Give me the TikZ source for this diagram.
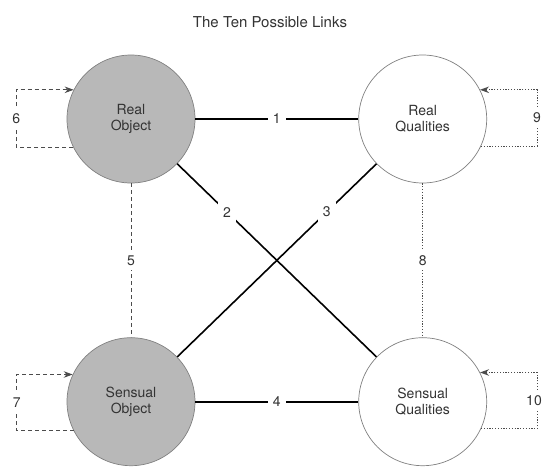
\documentclass[tikz,border=0pt]{standalone}
\usepackage{fontspec}
\setmainfont{TeX Gyre Heros}
\usetikzlibrary{arrows.meta,positioning}
\tikzset{
    %Define standard arrow tip
    >={Stealth[length=9pt,width=6.5pt]},
    %Define style for circles
    punkt/.style={
           circle,
           draw=black!50, line width=.7pt,
           minimum size=128pt,
           inner sep=0pt,
           font=\fontsize{14}{16.5}\selectfont,
           text=black!80,
           align=center},
    objpunkt/.style={punkt, fill=black!28},
    qualpunkt/.style={punkt, fill=white},
    % Define link styles
    pil/.style={line width=1.6pt, black},
    streg/.style={line width=.9pt, black!70, dash pattern=on 4pt off 3pt},
    prik/.style={line width=1pt, black!70, dash pattern=on 1.2pt off 1.6pt},
    tal/.style={fill=white, inner sep=5pt, text=black!80,
           font=\fontsize{14}{16}\selectfont}
}
\begin{document}
\begin{tikzpicture}[x=1pt,y=-1pt,node distance=163pt]
\useasboundingbox (0,0) rectangle (542,467);

\node[font=\fontsize{15}{17}\selectfont, text=black!80] (title) at (270,22) {The Ten Possible Links};

 %nodes
\node[objpunkt] (RO) at (131,119) {Real\\Object};
\node[qualpunkt, right=of RO] (RQ) {Real\\Qualities};
\node[objpunkt, below=154pt of RO] (SO) {Sensual\\Object};
\node[qualpunkt, right=of SO] (SQ) {Sensual\\Qualities};

 %links
\draw[pil] (RO) -- node[tal]{1} (RQ);
\draw[pil] (SO) -- node[tal]{4} (SQ);
\draw[pil] (RO) -- node[tal, pos=.25]{2} (SQ);
\draw[pil] (RQ) -- node[tal, pos=.25]{3} (SO);
\draw[streg] (RO) -- node[tal]{5} (SO);
\draw[prik] (RQ) -- node[tal]{8} (SQ);

 %self links
\draw[streg,->] (RO.206) -- ++(-57,0) |- node[tal, pos=.25]{6} (RO.153);
\draw[streg,->] (SO.207) -- ++(-57,0) |- node[tal, pos=.25]{7} (SO.155);
\draw[prik,->] (RQ.335) -- ++(56,0) |- node[tal, pos=.25]{9} (RQ.27);
\draw[prik,->] (SQ.335) -- ++(56,0) |- node[tal, pos=.25, xshift=-3pt, inner xsep=2pt]{10} (SQ.27);

\end{tikzpicture}
\end{document}
